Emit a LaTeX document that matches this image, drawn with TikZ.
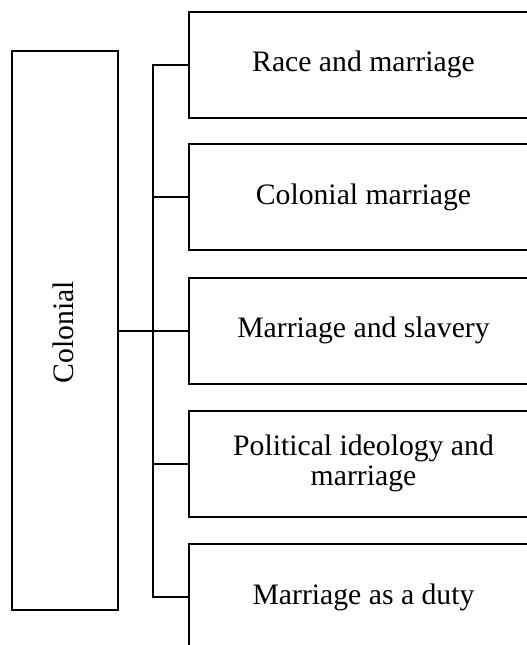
\documentclass[tikz,border=0pt]{standalone}
\usepackage{fontspec}
\setmainfont{Liberation Serif}
\begin{document}
\begin{tikzpicture}[x=1pt,y=-1pt,
  line/.style={line width=2pt},
  box/.style={draw, line width=2pt, minimum width=349pt, minimum height=106pt,
    inner sep=0pt, align=center, anchor=west, font=\fontsize{29.7}{29.5}\selectfont},
  lbl/.style={font=\fontsize{29.7}{29.5}\selectfont, inner sep=0pt}]
\useasboundingbox (0,0) rectangle (527,645);
\clip (0,0) rectangle (527,645);
\node[draw, line width=2pt, minimum width=106pt, minimum height=559pt, inner sep=0pt] (col) at (65,330.5) {};
\node[lbl, rotate=90] (collbl) at (63,332) {Colonial};
\node[box] (b1) at (188,64.5) {Race and marriage};
\node[box] (b2) at (188,197) {Colonial marriage};
\node[box] (b3) at (188,330.5) {Marriage and slavery};
\node[box] (b4) at (188,463.5) {Political ideology and\\marriage};
\node[box] (b5) at (188,597) {Marriage as a duty};
\coordinate (top) at (153,64.5);
\coordinate (bot) at (153,597);
\coordinate (mid) at (153,330.5);
\draw[line] (b1.west) -- (top) -- (bot) -- (b5.west);
\draw[line] (b2.west) -- (b2.west -| top);
\draw[line] (b4.west) -- (b4.west -| top);
\draw[line] (col.east |- mid) -- (b3.west);
\end{tikzpicture}
\end{document}
